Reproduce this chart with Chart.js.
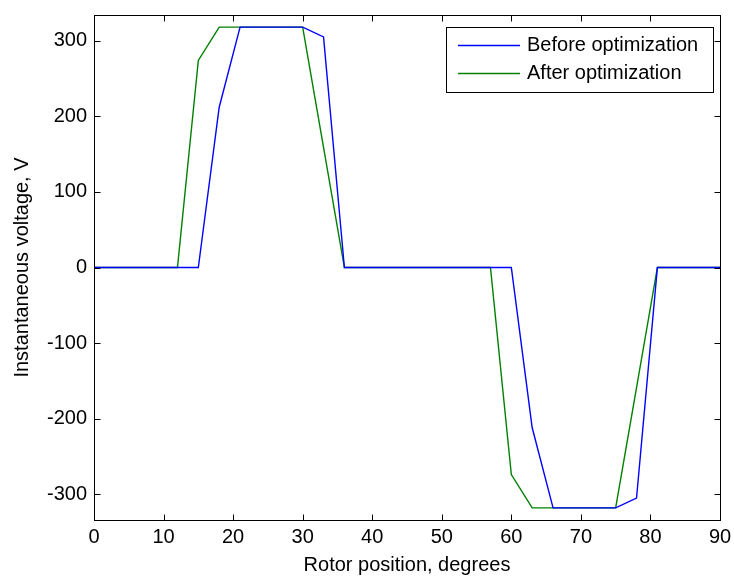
<!DOCTYPE html>
<html>
<head>
<meta charset="utf-8">
<title>Instantaneous voltage</title>
<script src="https://cdn.jsdelivr.net/npm/chart.js@4"></script>
<style>
  html, body { margin: 0; padding: 0; background: #fff; }
  #wrap { width: 734px; height: 578px; }
</style>
</head>
<body>
<div id="wrap"><canvas id="myChart" width="734" height="578"></canvas></div>
<script>
// rotor angle, degrees
var angle = [0, 3, 6, 9, 12, 15, 18, 21, 24, 27, 30, 33, 36, 39, 42, 45, 48, 51, 54, 57,
  60, 63, 66, 69, 72, 75, 78, 81, 84, 87, 90];

// phase voltage, V
var voltageBefore = [0, 0, 0, 0, 0, 0, 212, 318, 318, 318, 318, 305, 0, 0, 0, 0, 0, 0, 0, 0,
  0, -212, -318, -318, -318, -318, -305, 0, 0, 0, 0];
var voltageAfter = [0, 0, 0, 0, 0, 274, 318, 318, 318, 318, 318, 159, 0, 0, 0, 0, 0, 0, 0, 0,
  -274, -318, -318, -318, -318, -318, -159, 0, 0, 0, 0];

var seriesNames = ["Before optimization", "After optimization"];
var seriesColors = ["#0000ff", "#008000"];

var xTicks = [0, 10, 20, 30, 40, 50, 60, 70, 80, 90];
var yTicks = [-300, -200, -100, 0, 100, 200, 300];

var FONT = "'Liberation Sans', Arial, sans-serif";

function toPoints(ys) {
  var pts = [];
  for (var i = 0; i < angle.length; i++) pts.push({ x: angle[i], y: ys[i] });
  return pts;
}

// box round the axes, inward ticks on all four sides, legend
var framePlugin = {
  id: "frame",
  afterDatasetsDraw: function (chart) {
    var c = chart.ctx;
    var a = chart.chartArea;
    var xs = chart.scales.x;
    var ys = chart.scales.y;
    var L = Math.round(a.left) + 0.5, R = Math.round(a.right) + 0.5;
    var T = Math.round(a.top) + 0.5, B = Math.round(a.bottom) + 0.5;
    var tl = 6;

    c.save();
    c.strokeStyle = "#000";
    c.lineWidth = 1;
    c.strokeRect(L, T, R - L, B - T);

    c.beginPath();
    xs.ticks.forEach(function (t) {
      var px = Math.round(xs.getPixelForValue(t.value)) + 0.5;
      c.moveTo(px, B); c.lineTo(px, B - tl);
      c.moveTo(px, T); c.lineTo(px, T + tl);
    });
    ys.ticks.forEach(function (t) {
      var py = Math.round(ys.getPixelForValue(t.value)) + 0.5;
      c.moveTo(L, py); c.lineTo(L + tl, py);
      c.moveTo(R, py); c.lineTo(R - tl, py);
    });
    c.stroke();

    // legend box, top right
    var bx = 446.5, by = 27.5, bw = 267, bh = 65;
    c.fillStyle = "#fff";
    c.fillRect(bx, by, bw, bh);
    c.strokeRect(bx, by, bw, bh);
    c.font = "20px " + FONT;
    c.textBaseline = "middle";
    c.textAlign = "left";
    chart.data.datasets.forEach(function (ds, i) {
      var ly = 45.5 + i * 28;
      c.strokeStyle = ds.borderColor;
      c.lineWidth = 1.3;
      c.beginPath();
      c.moveTo(458, ly); c.lineTo(520, ly);
      c.stroke();
      c.fillStyle = "#000";
      c.fillText(ds.label, 527, ly);
    });
    c.restore();
  }
};

var ctx = document.getElementById("myChart");
var chart = new Chart(ctx, {
  type: "line",
  data: {
    datasets: [
      {
        label: seriesNames[0],
        data: toPoints(voltageBefore),
        borderColor: seriesColors[0],
        borderWidth: 1.4,
        pointRadius: 0,
        tension: 0,
        fill: false
      },
      {
        label: seriesNames[1],
        data: toPoints(voltageAfter),
        borderColor: seriesColors[1],
        borderWidth: 1.4,
        pointRadius: 0,
        tension: 0,
        fill: false
      }
    ]
  },
  options: {
    responsive: false,
    animation: false,
    layout: { padding: { top: 15, right: 14, left: 0, bottom: 0 } },
    plugins: {
      legend: { display: false },
      tooltip: { enabled: false }
    },
    scales: {
      x: {
        type: "linear",
        min: 0,
        max: 90,
        afterBuildTicks: function (scale) {
          scale.ticks = xTicks.map(function (v) { return { value: v }; });
        },
        afterFit: function (scale) {
          scale.height = 58;
          scale.paddingLeft = 0;
          scale.paddingRight = 0;
        },
        grid: { display: false, drawTicks: false },
        border: { display: false },
        ticks: { color: "#000", padding: 5, maxRotation: 0, font: { family: FONT, size: 20 } },
        title: {
          display: true,
          text: "Rotor position, degrees",
          color: "#000",
          padding: { top: 0, bottom: 1 },
          font: { family: FONT, size: 20 }
        }
      },
      y: {
        min: -334,
        max: 334,
        afterBuildTicks: function (scale) {
          scale.ticks = yTicks.map(function (v) { return { value: v }; });
        },
        afterFit: function (scale) {
          scale.width = 94;
          scale.paddingTop = 0;
          scale.paddingBottom = 0;
        },
        grid: { display: false, drawTicks: false },
        border: { display: false },
        ticks: { color: "#000", padding: 7, font: { family: FONT, size: 20 } },
        title: {
          display: true,
          text: "Instantaneous voltage, V",
          color: "#000",
          padding: { top: 10, bottom: 0 },
          font: { family: FONT, size: 20 }
        }
      }
    }
  },
  plugins: [framePlugin]
});
</script>
</body>
</html>
